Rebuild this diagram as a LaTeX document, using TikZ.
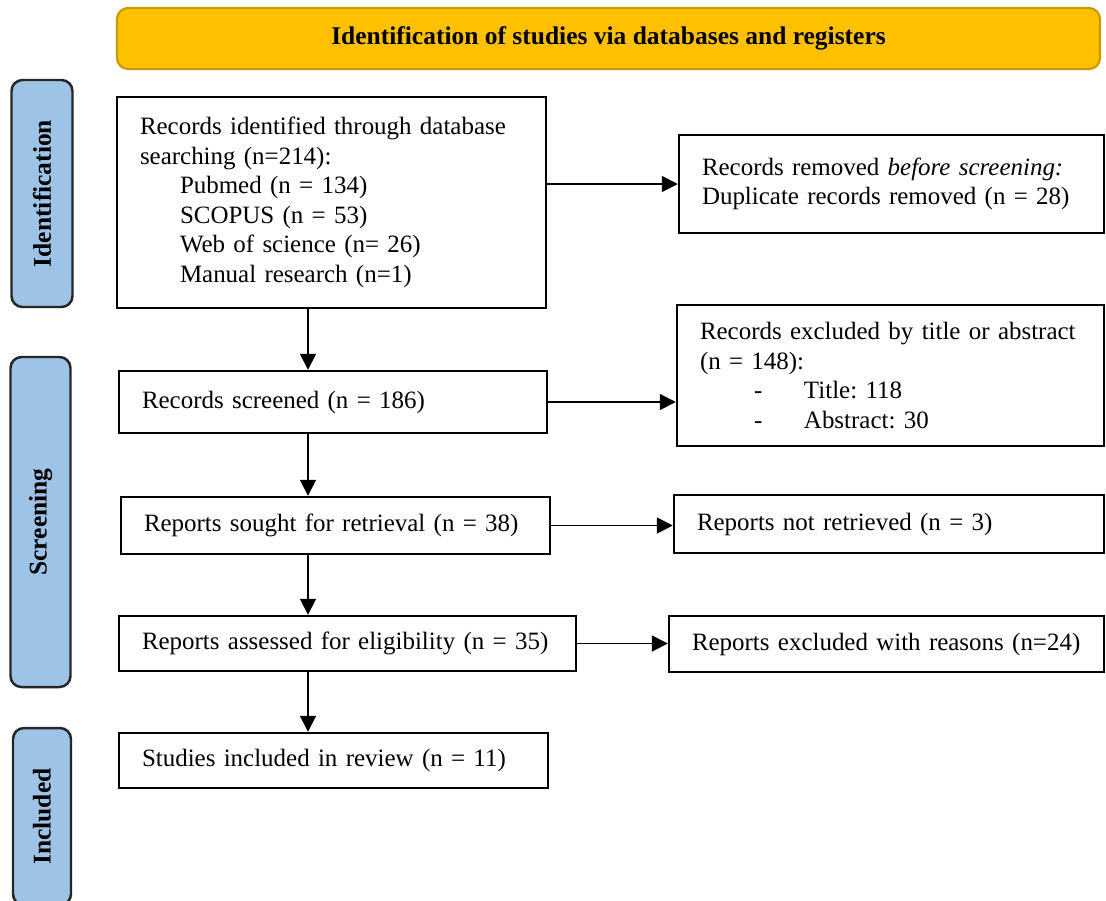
\documentclass[tikz,border=0pt]{standalone}
\usepackage{fontspec}
\setmainfont{Liberation Serif}
\usetikzlibrary{arrows.meta}

\definecolor{phaseblue}{HTML}{9DC3E6}
\definecolor{bannergold}{HTML}{FFC000}
\definecolor{bannerrim}{HTML}{C49A00}

\begin{document}
\begin{tikzpicture}[
  >={Triangle[length=0.32cm,width=0.32cm]},
  every node/.style={font=\fontsize{14.2}{16.8}\selectfont\frenchspacing},
  stagebox/.style={draw, line width=1.4pt, align=left, inner xsep=0.46cm, inner ysep=0pt},
  phase/.style={draw=black!85, line width=1.4pt, fill=phaseblue, rounded corners=0.22cm,
    rotate=90, inner sep=0pt, font=\fontsize{14.5}{17}\selectfont\bfseries},
  banner/.style={draw=bannerrim, line width=1.2pt, fill=bannergold, rounded corners=0.22cm,
    inner sep=0pt, font=\fontsize{14.5}{17}\selectfont\bfseries},
  flow/.style={->, line width=1pt}
]
  \useasboundingbox (0,0) rectangle (22.12,-18);

  % header and phases
  \node[banner, minimum width=19.66cm, minimum height=1.22cm] (head) at (12.17,-0.77)
    {Identification of studies via databases and registers};
  \node[phase, minimum width=4.54cm, minimum height=1.22cm] (idphase) at (0.84,-3.87) {Identification};
  \node[phase, minimum width=6.6cm, minimum height=1.2cm] (scphase) at (0.81,-10.44) {Screening};
  \node[phase, minimum width=3.54cm, minimum height=1.16cm] (inphase) at (0.84,-16.33) {Included};

  % main column
  \node[stagebox, text width=7.66cm, minimum height=4.22cm] (found) at (6.63,-4.05)
    {Records identified through database\\
     searching (n=214):\\
     \hspace*{0.8cm}Pubmed (n = 134)\\
     \hspace*{0.8cm}SCOPUS (n = 53)\\
     \hspace*{0.8cm}Web of science (n= 26)\\
     \hspace*{0.8cm}Manual research (n=1)};
  \node[stagebox, text width=7.64cm, minimum height=1.24cm] (screened) at (6.66,-8.04)
    {Records screened (n = 186)};
  \node[stagebox, text width=7.66cm, minimum height=1.14cm] (sought) at (6.71,-10.51)
    {Reports sought for retrieval (n = 38)};
  \node[stagebox, text width=8.22cm, minimum height=1.1cm] (assessed) at (6.95,-12.87)
    {Reports assessed for eligibility (n = 35)};
  \node[stagebox, text width=7.66cm, minimum height=1.1cm] (included) at (6.67,-15.21)
    {Studies included in review (n = 11)};

  % side column
  \node[stagebox, text width=7.58cm, minimum height=1.96cm] (removed) at (17.83,-3.68)
    {Records removed \textit{before screening:}\\
     Duplicate records removed (n = 28)};
  \node[stagebox, text width=7.62cm, minimum height=2.82cm] (excluded) at (17.81,-7.51)
    {Records excluded by title or abstract\\
     (n = 148):\\
     \hspace*{1.08cm}\makebox[1cm][l]{-}Title: 118\\
     \hspace*{1.08cm}\makebox[1cm][l]{-}Abstract: 30};
  \node[stagebox, text width=7.68cm, minimum height=1.16cm] (notretr) at (17.78,-10.48)
    {Reports not retrieved (n = 3)};
  \node[stagebox, text width=7.78cm, minimum height=1.12cm] (reasons) at (17.73,-12.88)
    {Reports excluded with reasons (n=24)};

  \coordinate (spine) at (6.16,0);

  \draw[flow] (found.south -| spine) -- (screened.north -| spine);
  \draw[flow] (screened.south -| spine) -- (sought.north -| spine);
  \draw[flow] (sought.south -| spine) -- (assessed.north -| spine);
  \draw[flow] (assessed.south -| spine) -- (included.north -| spine);

  \draw[flow] (removed.west -| found.east) -- (removed.west);
  \draw[flow] (screened.east) -- (screened.east -| excluded.west);
  \draw[flow] (sought.east) -- (sought.east -| notretr.west);
  \draw[flow] (assessed.east) -- (assessed.east -| reasons.west);
\end{tikzpicture}
\end{document}
